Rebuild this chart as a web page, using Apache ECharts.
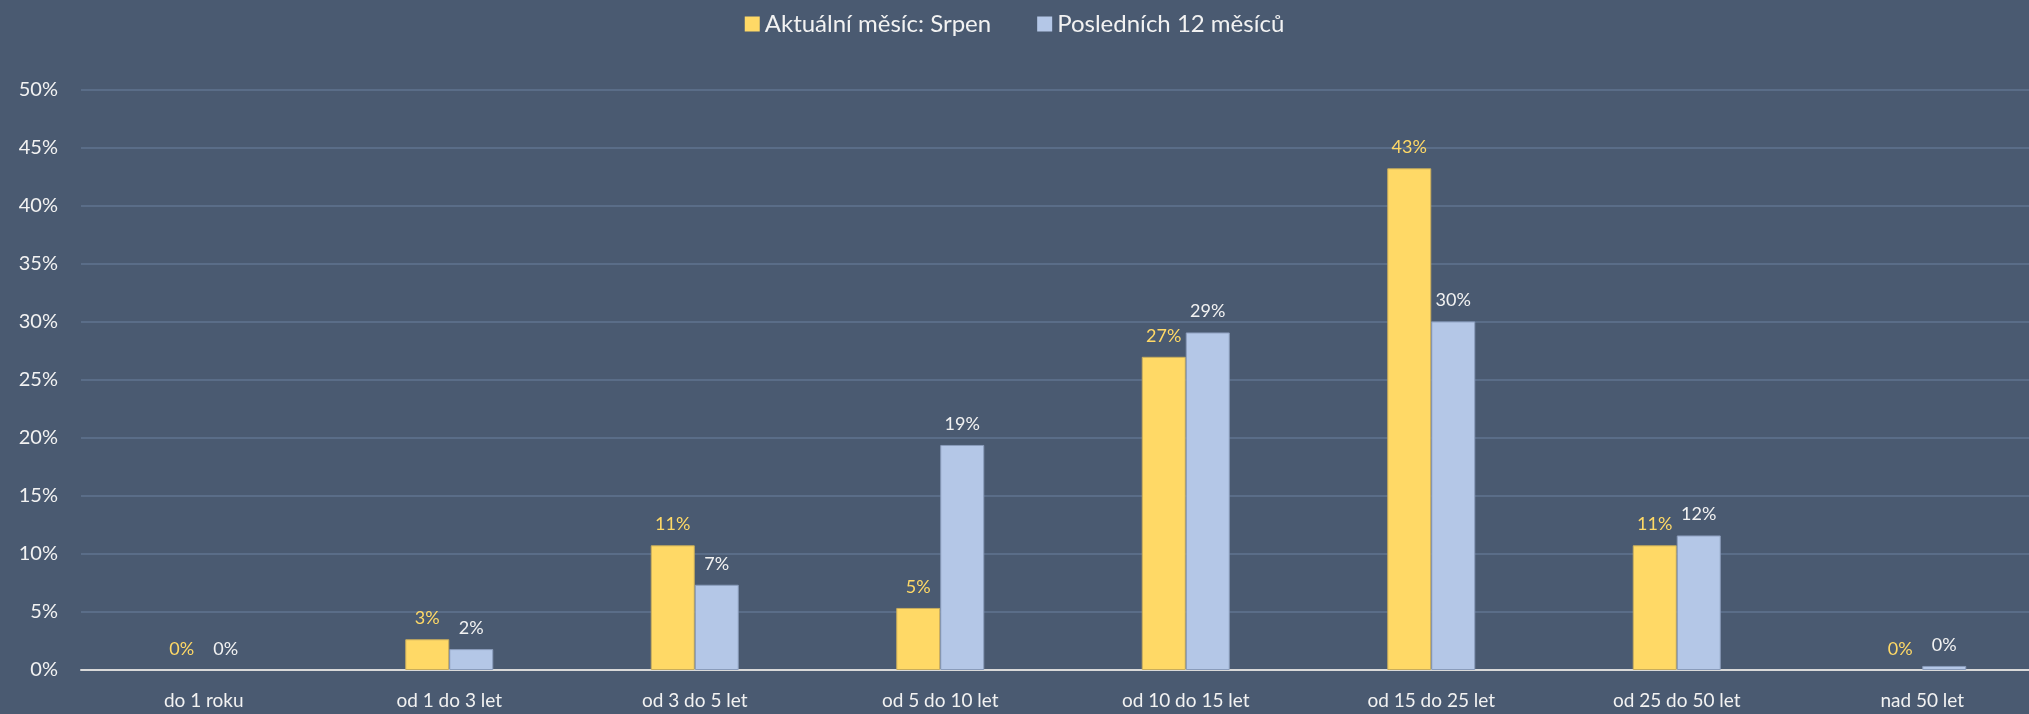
<!DOCTYPE html>
<html>
<head>
<meta charset="utf-8">
<script src="https://cdn.jsdelivr.net/npm/echarts@6/dist/echarts.min.js"></script>
<style>
  html, body { margin: 0; padding: 0; background: #4a5a71; }
  #chart { width: 2029px; height: 714px; }
</style>
</head>
<body>
<div id="chart"></div>
<script>
  const categories = ['do 1 roku', 'od 1 do 3 let', 'od 3 do 5 let', 'od 5 do 10 let', 'od 10 do 15 let', 'od 15 do 25 let', 'od 25 do 50 let', 'nad 50 let'];
  const currentMonth = [0, 2.65, 10.75, 5.35, 27.0, 43.25, 10.75, 0];
  const last12Months = [0, 1.8, 7.35, 19.4, 29.1, 30.05, 11.6, 0.35];
  const seriesNames = ['Aktuální měsíc: Srpen', 'Posledních 12 měsíců'];

  const fontFamily = 'Lato, "Noto Sans", sans-serif';
  const textColor = '#f2f2f2';
  const yellow = '#ffd966';
  const blue = '#b4c7e7';

  // zero values get no outline, so no stray line sits on the axis
  const toItems = (values, border) => values.map(v => ({
    value: v,
    itemStyle: { borderColor: border, borderWidth: v > 0 ? 1 : 0 }
  }));

  const chart = echarts.init(document.getElementById('chart'));

  const option = {
    backgroundColor: '#4a5a71',
    animation: false,
    legend: {
      top: 7,
      left: 'center',
      itemWidth: 15,
      itemHeight: 15,
      itemGap: 46,
      icon: 'rect',
      textStyle: {
        color: textColor,
        fontSize: 24,
        fontFamily: fontFamily
      },
      data: seriesNames
    },
    grid: {
      left: 81,
      width: 1964,
      top: 90,
      bottom: 44,
      outerBoundsMode: 'none'
    },
    xAxis: {
      type: 'category',
      data: categories,
      axisTick: { show: false },
      axisLine: {
        lineStyle: { color: '#d9d9d9', width: 2 }
      },
      axisLabel: {
        color: textColor,
        fontSize: 19,
        fontFamily: fontFamily,
        margin: 21
      }
    },
    yAxis: {
      type: 'value',
      min: 0,
      max: 50,
      interval: 5,
      axisLine: { show: false },
      axisTick: { show: false },
      axisLabel: {
        color: textColor,
        fontSize: 20,
        fontFamily: fontFamily,
        margin: 23,
        formatter: '{value}%'
      },
      splitLine: {
        lineStyle: { color: '#5a6d88', width: 2 }
      }
    },
    series: [
      {
        name: seriesNames[0],
        type: 'bar',
        data: toItems(currentMonth, '#c8ad5c'),
        barWidth: 44,
        barGap: '0%',
        itemStyle: { color: yellow },
        label: {
          show: true,
          position: 'top',
          distance: 12,
          color: '#ffd966',
          fontSize: 18,
          fontFamily: fontFamily,
          formatter: p => Math.round(p.value) + '%'
        }
      },
      {
        name: seriesNames[1],
        type: 'bar',
        data: toItems(last12Months, '#8a9cbb'),
        barWidth: 44,
        itemStyle: { color: blue },
        label: {
          show: true,
          position: 'top',
          distance: 12,
          color: textColor,
          fontSize: 18,
          fontFamily: fontFamily,
          formatter: p => Math.round(p.value) + '%'
        }
      }
    ]
  };

  chart.setOption(option);
</script>
</body>
</html>
